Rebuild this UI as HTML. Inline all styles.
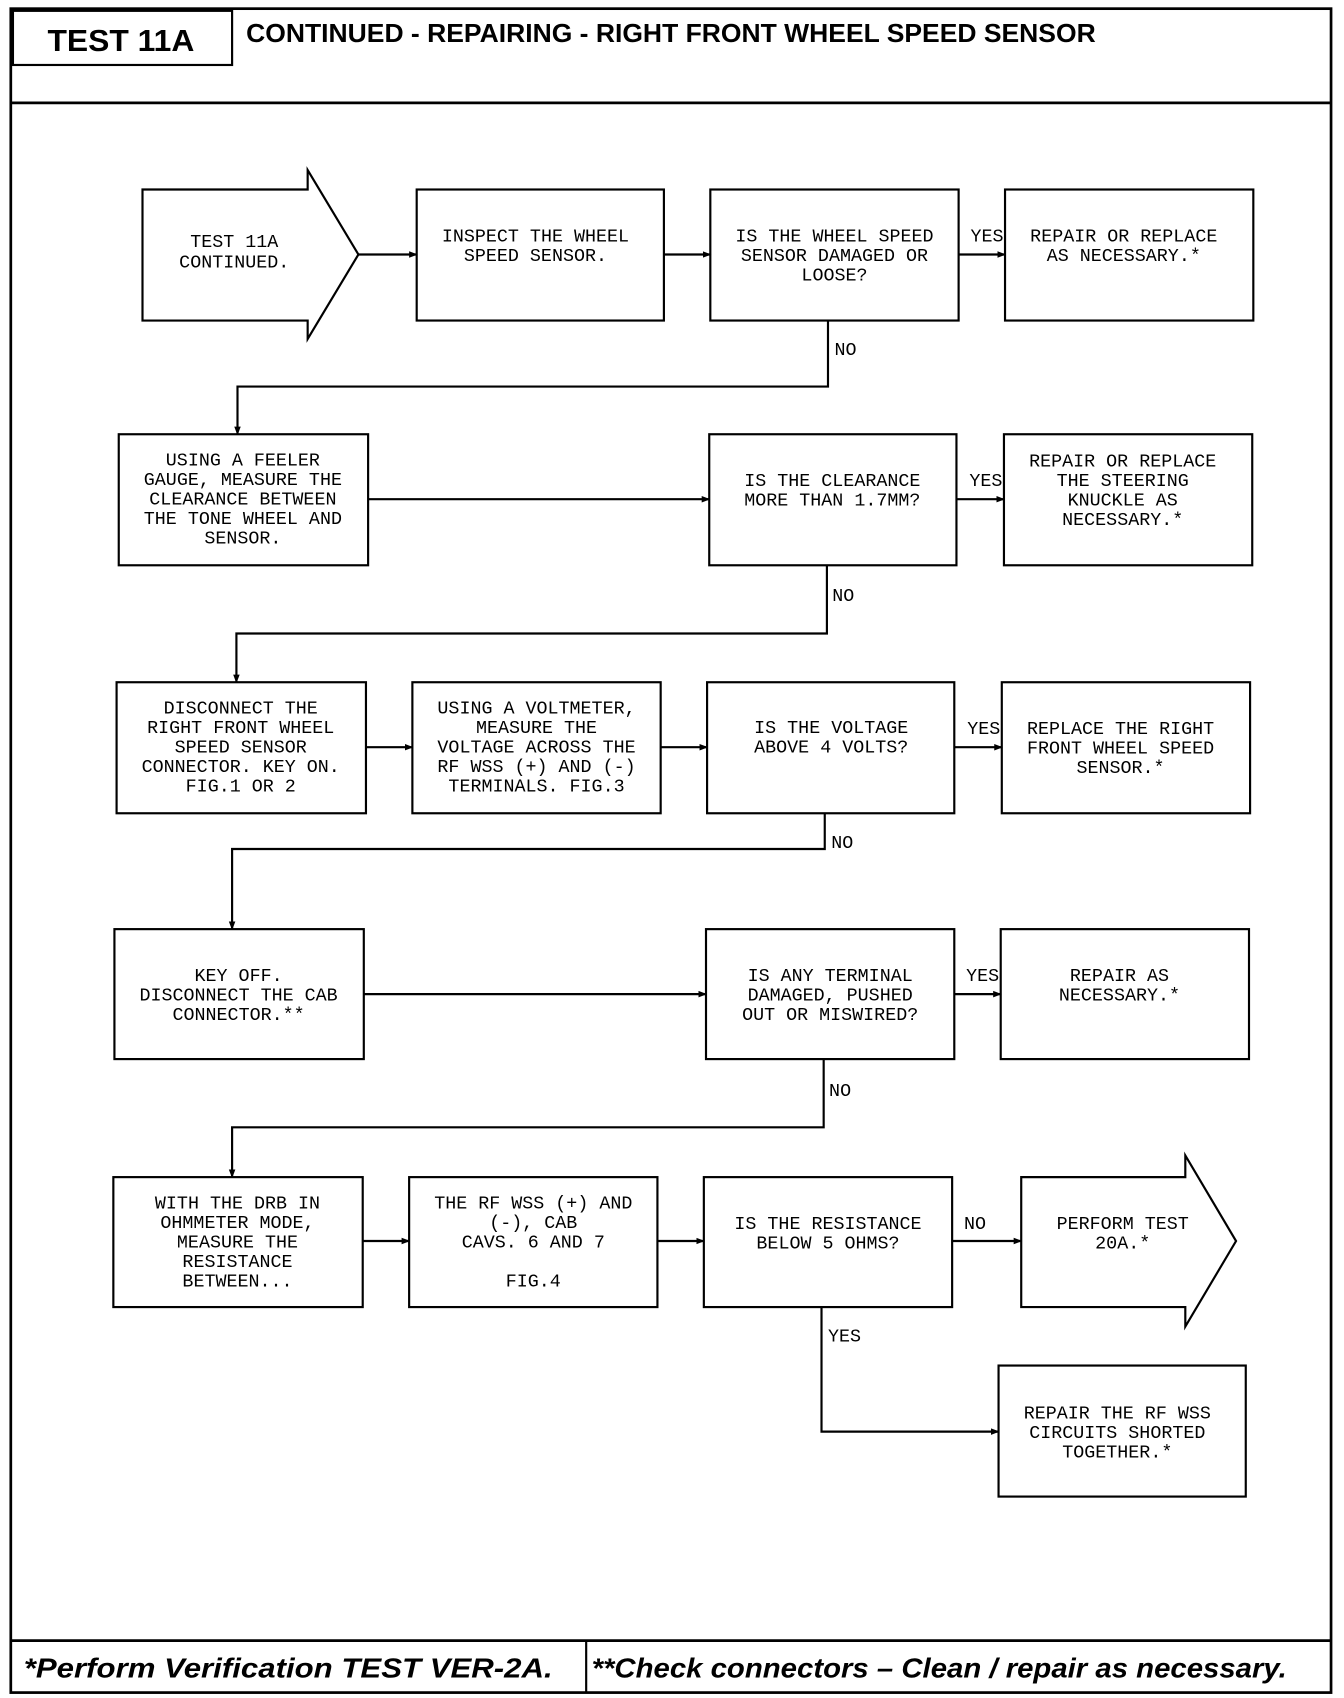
<!DOCTYPE html>
<html><head><meta charset="utf-8"><style>
html,body{margin:0;padding:0;background:#fff}
svg{display:block}
.t{font-family:"Liberation Mono",monospace;font-size:17px;fill:#000;text-anchor:middle}
.l{font-family:"Liberation Mono",monospace;font-size:17px;fill:#000}
rect,polygon{fill:#fff;stroke:#000;stroke-width:2}
line,polyline{stroke:#000;stroke-width:2;fill:none}
</style></head><body>
<svg width="1344" height="1698" viewBox="0 0 1245 1568" preserveAspectRatio="none" xmlns="http://www.w3.org/2000/svg">
<defs><marker id="a" markerWidth="8" markerHeight="8" refX="7" refY="4" orient="auto" markerUnits="userSpaceOnUse"><path d="M0,1 L8,4 L0,7 z" fill="#000"/></marker></defs>
<rect x="10" y="8" width="1223" height="1555" style="stroke-width:2.5"/>
<rect x="12" y="10" width="203" height="50"/>
<line x1="10" y1="95" x2="1233" y2="95" style="stroke-width:2.5"/>
<text x="44" y="47" font-family="Liberation Sans,sans-serif" font-weight="bold" font-size="28" textLength="136" lengthAdjust="spacingAndGlyphs">TEST 11A</text>
<text x="228" y="39" font-family="Liberation Sans,sans-serif" font-weight="bold" font-size="24" textLength="787" lengthAdjust="spacingAndGlyphs">CONTINUED - REPAIRING - RIGHT FRONT WHEEL SPEED SENSOR</text>
<line x1="10" y1="1515" x2="1233" y2="1515" style="stroke-width:2.5"/>
<line x1="543" y1="1515" x2="543" y2="1563"/>
<text x="22" y="1549" font-family="Liberation Sans,sans-serif" font-weight="bold" font-style="italic" font-size="26" textLength="490" lengthAdjust="spacingAndGlyphs">*Perform Verification TEST VER-2A.</text>
<text x="548" y="1549" font-family="Liberation Sans,sans-serif" font-weight="bold" font-style="italic" font-size="26" textLength="644" lengthAdjust="spacingAndGlyphs">**Check connectors – Clean / repair as necessary.</text>

<!-- Row1 -->
<polygon points="132,175 285,175 285,157 332,235 285,313 285,296 132,296"/>
<text class="t" x="217" y="228">TEST 11A</text><text class="t" x="217" y="247">CONTINUED.</text>
<rect x="386" y="175" width="229" height="121"/>
<text class="t" x="496" y="223">INSPECT THE WHEEL</text><text class="t" x="496" y="241">SPEED SENSOR.</text>
<rect x="658" y="175" width="230" height="121"/>
<text class="t" x="773" y="223">IS THE WHEEL SPEED</text><text class="t" x="773" y="241">SENSOR DAMAGED OR</text><text class="t" x="773" y="259">LOOSE?</text>
<rect x="931" y="175" width="230" height="121"/>
<text class="t" x="1041" y="223">REPAIR OR REPLACE</text><text class="t" x="1041" y="241">AS NECESSARY.*</text>
<text class="l" x="899" y="223">YES</text>
<line x1="332" y1="235" x2="386" y2="235" marker-end="url(#a)"/>
<line x1="615" y1="235" x2="658" y2="235" marker-end="url(#a)"/>
<line x1="888" y1="235" x2="931" y2="235" marker-end="url(#a)"/>
<polyline points="767,296 767,357 220,357 220,401" marker-end="url(#a)"/>
<text class="l" x="773" y="328">NO</text>

<!-- Row2 -->
<rect x="110" y="401" width="231" height="121"/>
<text class="t" x="225" y="430">USING A FEELER</text><text class="t" x="225" y="448">GAUGE, MEASURE THE</text><text class="t" x="225" y="466">CLEARANCE BETWEEN</text><text class="t" x="225" y="484">THE TONE WHEEL AND</text><text class="t" x="225" y="502">SENSOR.</text>
<rect x="657" y="401" width="229" height="121"/>
<text class="t" x="771" y="449">IS THE CLEARANCE</text><text class="t" x="771" y="467">MORE THAN 1.7MM?</text>
<rect x="930" y="401" width="230" height="121"/>
<text class="t" x="1040" y="431">REPAIR OR REPLACE</text><text class="t" x="1040" y="449">THE STEERING</text><text class="t" x="1040" y="467">KNUCKLE AS</text><text class="t" x="1040" y="485">NECESSARY.*</text>
<text class="l" x="898" y="449">YES</text>
<line x1="341" y1="461" x2="657" y2="461" marker-end="url(#a)"/>
<line x1="886" y1="461" x2="930" y2="461" marker-end="url(#a)"/>
<polyline points="766,522 766,585 219,585 219,630" marker-end="url(#a)"/>
<text class="l" x="771" y="555">NO</text>

<!-- Row3 -->
<rect x="108" y="630" width="231" height="121"/>
<text class="t" x="223" y="659">DISCONNECT THE</text><text class="t" x="223" y="677">RIGHT FRONT WHEEL</text><text class="t" x="223" y="695">SPEED SENSOR</text><text class="t" x="223" y="713">CONNECTOR. KEY ON.</text><text class="t" x="223" y="731">FIG.1 OR 2</text>
<rect x="382" y="630" width="230" height="121"/>
<text class="t" x="497" y="659">USING A VOLTMETER,</text><text class="t" x="497" y="677">MEASURE THE</text><text class="t" x="497" y="695">VOLTAGE ACROSS THE</text><text class="t" x="497" y="713">RF WSS (+) AND (-)</text><text class="t" x="497" y="731">TERMINALS. FIG.3</text>
<rect x="655" y="630" width="229" height="121"/>
<text class="t" x="770" y="677">IS THE VOLTAGE</text><text class="t" x="770" y="695">ABOVE 4 VOLTS?</text>
<rect x="928" y="630" width="230" height="121"/>
<text class="t" x="1038" y="678">REPLACE THE RIGHT</text><text class="t" x="1038" y="696">FRONT WHEEL SPEED</text><text class="t" x="1038" y="714">SENSOR.*</text>
<text class="l" x="896" y="678">YES</text>
<line x1="339" y1="690" x2="382" y2="690" marker-end="url(#a)"/>
<line x1="612" y1="690" x2="655" y2="690" marker-end="url(#a)"/>
<line x1="884" y1="690" x2="928" y2="690" marker-end="url(#a)"/>
<polyline points="764,751 764,784 215,784 215,858" marker-end="url(#a)"/>
<text class="l" x="770" y="783">NO</text>

<!-- Row4 -->
<rect x="106" y="858" width="231" height="120"/>
<text class="t" x="221" y="906">KEY OFF.</text><text class="t" x="221" y="924">DISCONNECT THE CAB</text><text class="t" x="221" y="942">CONNECTOR.**</text>
<rect x="654" y="858" width="230" height="120"/>
<text class="t" x="769" y="906">IS ANY TERMINAL</text><text class="t" x="769" y="924">DAMAGED, PUSHED</text><text class="t" x="769" y="942">OUT OR MISWIRED?</text>
<rect x="927" y="858" width="230" height="120"/>
<text class="t" x="1037" y="906">REPAIR AS</text><text class="t" x="1037" y="924">NECESSARY.*</text>
<text class="l" x="895" y="906">YES</text>
<line x1="337" y1="918" x2="654" y2="918" marker-end="url(#a)"/>
<line x1="884" y1="918" x2="927" y2="918" marker-end="url(#a)"/>
<polyline points="763,978 763,1041 215,1041 215,1087" marker-end="url(#a)"/>
<text class="l" x="768" y="1012">NO</text>

<!-- Row5 -->
<rect x="105" y="1087" width="231" height="120"/>
<text class="t" x="220" y="1116">WITH THE DRB IN</text><text class="t" x="220" y="1134">OHMMETER MODE,</text><text class="t" x="220" y="1152">MEASURE THE</text><text class="t" x="220" y="1170">RESISTANCE</text><text class="t" x="220" y="1188">BETWEEN...</text>
<rect x="379" y="1087" width="230" height="120"/>
<text class="t" x="494" y="1116">THE RF WSS (+) AND</text><text class="t" x="494" y="1134">(-), CAB</text><text class="t" x="494" y="1152">CAVS. 6 AND 7</text><text class="t" x="494" y="1188">FIG.4</text>
<rect x="652" y="1087" width="230" height="120"/>
<text class="t" x="767" y="1135">IS THE RESISTANCE</text><text class="t" x="767" y="1153">BELOW 5 OHMS?</text>
<polygon points="946,1087 1098,1087 1098,1067 1145,1146 1098,1225 1098,1207 946,1207"/>
<text class="t" x="1040" y="1135">PERFORM TEST</text><text class="t" x="1040" y="1153">20A.*</text>
<text class="l" x="893" y="1135">NO</text>
<line x1="336" y1="1146" x2="379" y2="1146" marker-end="url(#a)"/>
<line x1="609" y1="1146" x2="652" y2="1146" marker-end="url(#a)"/>
<line x1="882" y1="1146" x2="946" y2="1146" marker-end="url(#a)"/>
<polyline points="761,1207 761,1322 925,1322" marker-end="url(#a)"/>
<text class="l" x="767" y="1239">YES</text>
<rect x="925" y="1261" width="229" height="121"/>
<text class="t" x="1035" y="1310">REPAIR THE RF WSS</text><text class="t" x="1035" y="1328">CIRCUITS SHORTED</text><text class="t" x="1035" y="1346">TOGETHER.*</text>
</svg>
</body></html>
